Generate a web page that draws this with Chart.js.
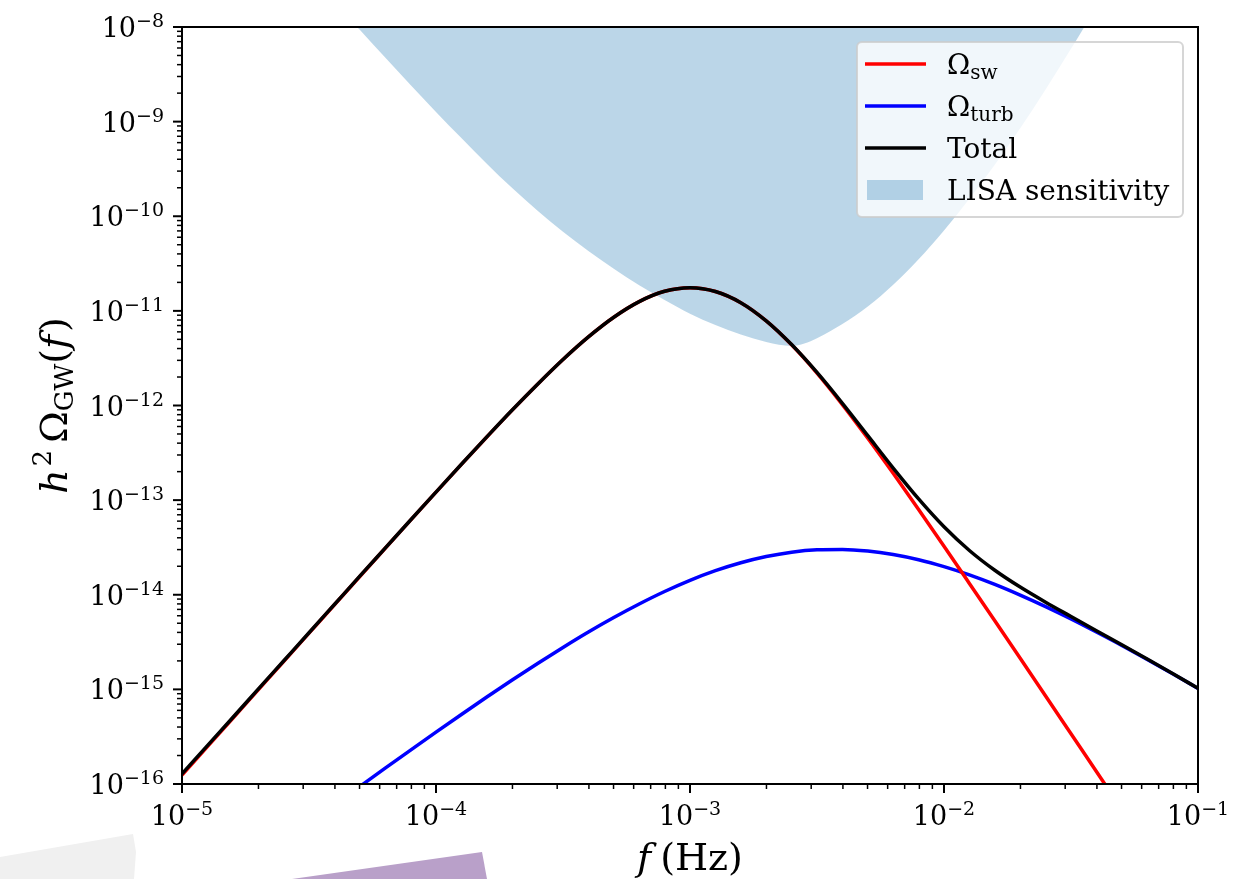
<!DOCTYPE html>
<html>
<head>
<meta charset="utf-8">
<title>GW spectrum</title>
<script src="https://cdn.jsdelivr.net/npm/chart.js@4.4.0/dist/chart.umd.min.js"></script>
<style>
  html, body { margin: 0; padding: 0; background: #fff; }
  canvas { display: block; }
</style>
</head>
<body>
<canvas id="spectrum" width="1254" height="879"></canvas>
<script>
// frequencies as log10(f / Hz)
const logFreq = [
  -5.0, -4.9, -4.8, -4.7, -4.6, -4.5, -4.4, -4.3, -4.2, -4.1,
  -4.0, -3.9, -3.8, -3.7, -3.6, -3.5, -3.4, -3.3, -3.2, -3.1,
  -3.0, -2.9, -2.8, -2.7, -2.6, -2.5, -2.4, -2.3, -2.2, -2.1,
  -2.0, -1.9, -1.8, -1.7, -1.6, -1.5, -1.4, -1.3, -1.2, -1.1, -1.0
];

// log10(h^2 Omega) for each component
const swLog = [
  -15.905, -15.605, -15.305, -15.005, -14.705, -14.406, -14.106, -13.807, -13.509, -13.212,
  -12.916, -12.622, -12.333, -12.049, -11.775, -11.514, -11.275, -11.067, -10.902, -10.793,
  -10.755, -10.795, -10.914, -11.106, -11.359, -11.657, -11.990, -12.346, -12.717, -13.099,
  -13.487, -13.880, -14.275, -14.672, -15.070, -15.469, -15.868, -16.268, -16.668, -17.068, -17.468
];
const turbLog = [
  -17.406, -17.208, -17.009, -16.811, -16.614, -16.417, -16.221, -16.027, -15.833, -15.642,
  -15.452, -15.265, -15.081, -14.901, -14.726, -14.557, -14.394, -14.241, -14.098, -13.966,
  -13.848, -13.746, -13.662, -13.596, -13.550, -13.525, -13.521, -13.538, -13.575, -13.630,
  -13.703, -13.790, -13.891, -14.004, -14.126, -14.256, -14.394, -14.536, -14.684, -14.835, -14.990
];
const totalLog = [
  -15.892, -15.594, -15.297, -14.998, -14.700, -14.402, -14.103, -13.804, -13.507, -13.210,
  -12.915, -12.621, -12.332, -12.048, -11.775, -11.514, -11.275, -11.067, -10.902, -10.793,
  -10.755, -10.795, -10.913, -11.105, -11.356, -11.651, -11.977, -12.319, -12.661, -12.987,
  -13.281, -13.532, -13.741, -13.919, -14.079, -14.230, -14.380, -14.528, -14.679, -14.832, -14.989
];

// LISA power-law sensitivity curve
const lisaFreqLog = [
  -4.4, -4.3, -4.2, -4.1, -4.0, -3.9, -3.8, -3.7, -3.6, -3.5,
  -3.4, -3.3, -3.2, -3.1, -3.0, -2.9, -2.8, -2.7, -2.65, -2.6,
  -2.55, -2.5, -2.4, -2.3, -2.2, -2.1, -2.0, -1.9, -1.8, -1.7,
  -1.6, -1.5, -1.4
];
const lisaLog = [
  -7.735, -8.03, -8.323, -8.613, -8.897, -9.174, -9.444, -9.702, -9.942, -10.164,
  -10.368, -10.554, -10.73, -10.885, -11.03, -11.15, -11.25, -11.33, -11.358, -11.37,
  -11.345, -11.29, -11.14, -10.955, -10.725, -10.455, -10.15, -9.815, -9.455, -9.07,
  -8.66, -8.23, -7.79
];

const xDecades = [-5, -4, -3, -2, -1];
const yDecades = [-16, -15, -14, -13, -12, -11, -10, -9, -8];

const SERIF = '"DejaVu Serif", "Liberation Serif", serif';

const toPoints = (xs, ys) => xs.map((lx, i) => ({ x: Math.pow(10, lx), y: Math.pow(10, ys[i]) }));

// "10" with a superscript exponent
function drawPow(ctx, exp, x, baseline, align) {
  const base = '10';
  const sup = '\u2212' + Math.abs(exp);
  ctx.font = '27px ' + SERIF;
  const wb = ctx.measureText(base).width;
  ctx.font = '19px ' + SERIF;
  const ws = ctx.measureText(sup).width;
  const left = align === 'center' ? x - (wb + ws) / 2 : x - (wb + ws);
  ctx.textAlign = 'left';
  ctx.textBaseline = 'alphabetic';
  ctx.font = '27px ' + SERIF;
  ctx.fillText(base, left, baseline);
  ctx.font = '19px ' + SERIF;
  ctx.fillText(sup, left + wb, baseline - 10);
}

// draws a run of [text, font, dy, gap] pieces starting at x
function drawRun(ctx, pieces, x, y) {
  let cx = x;
  pieces.forEach(([txt, font, dy, gap]) => {
    ctx.font = font;
    ctx.fillText(txt, cx, y + (dy || 0));
    cx += ctx.measureText(txt).width + (gap || 0);
  });
  return cx - x;
}

function runWidth(ctx, pieces) {
  let w = 0;
  pieces.forEach(([txt, font, dy, gap]) => {
    ctx.font = font;
    w += ctx.measureText(txt).width + (gap || 0);
  });
  return w;
}

const frame = {
  id: 'frame',
  beforeDraw(chart) {
    const ctx = chart.ctx;
    ctx.save();
    ctx.fillStyle = '#ffffff';
    ctx.fillRect(0, 0, chart.width, chart.height);
    // scraps of paper below the axis
    ctx.fillStyle = '#f0f0f0';
    ctx.beginPath();
    ctx.moveTo(0, 857); ctx.lineTo(133, 834); ctx.lineTo(136, 852);
    ctx.lineTo(134, 879); ctx.lineTo(0, 879);
    ctx.closePath();
    ctx.fill();
    ctx.fillStyle = '#b9a0c9';
    ctx.beginPath();
    ctx.moveTo(292, 879); ctx.lineTo(482, 852); ctx.lineTo(487, 879);
    ctx.closePath();
    ctx.fill();
    ctx.restore();
  },
  afterDatasetsDraw(chart) {
    const ctx = chart.ctx;
    const { left, right, top, bottom } = chart.chartArea;
    const xs = chart.scales.x, ys = chart.scales.y;
    ctx.save();
    ctx.strokeStyle = '#000';
    ctx.fillStyle = '#000';
    ctx.lineWidth = 2;
    ctx.strokeRect(left, top, right - left, bottom - top);

    // x ticks
    xDecades.forEach((d, i) => {
      const px = xs.getPixelForValue(Math.pow(10, d));
      ctx.lineWidth = 2;
      ctx.beginPath(); ctx.moveTo(px, bottom); ctx.lineTo(px, bottom + 9); ctx.stroke();
      drawPow(ctx, d, px, 825, 'center');
      if (i < xDecades.length - 1) {
        ctx.lineWidth = 1.5;
        for (let k = 2; k <= 9; k++) {
          const mx = xs.getPixelForValue(k * Math.pow(10, d));
          ctx.beginPath(); ctx.moveTo(mx, bottom); ctx.lineTo(mx, bottom + 5); ctx.stroke();
        }
      }
    });

    // y ticks
    yDecades.forEach((d, i) => {
      const py = ys.getPixelForValue(Math.pow(10, d));
      ctx.lineWidth = 2;
      ctx.beginPath(); ctx.moveTo(left, py); ctx.lineTo(left - 9, py); ctx.stroke();
      drawPow(ctx, d, 164, py + 10, 'right');
      if (i < yDecades.length - 1) {
        ctx.lineWidth = 1.5;
        for (let k = 2; k <= 9; k++) {
          const my = ys.getPixelForValue(k * Math.pow(10, d));
          ctx.beginPath(); ctx.moveTo(left, my); ctx.lineTo(left - 5, my); ctx.stroke();
        }
      }
    });

    // axis titles
    const big = '38px ' + SERIF, bigIt = 'italic 38px ' + SERIF, small = '26px ' + SERIF;
    ctx.textAlign = 'left';
    ctx.textBaseline = 'alphabetic';
    const xTitle = [['f', bigIt, 0, 9], ['(Hz)', big, 0]];
    const xw = runWidth(ctx, xTitle);
    drawRun(ctx, xTitle, (left + right) / 2 - xw / 2, 870);

    const yTitle = [['h', bigIt, 0, 3], ['2', small, -16, 7], ['\u03A9', big, 0],
                    ['GW', small, 6], ['(', big, 0], ['f', bigIt, 0, 3], [')', big, 0]];
    const yw = runWidth(ctx, yTitle);
    ctx.translate(67, (top + bottom) / 2);
    ctx.rotate(-Math.PI / 2);
    drawRun(ctx, yTitle, -yw / 2, 0);
    ctx.restore();
  },
  afterDraw(chart) {
    const ctx = chart.ctx;
    ctx.save();
    // legend box
    const bx = 857, by = 42, bw = 326, bh = 175, r = 5;
    ctx.beginPath();
    ctx.moveTo(bx + r, by);
    ctx.arcTo(bx + bw, by, bx + bw, by + bh, r);
    ctx.arcTo(bx + bw, by + bh, bx, by + bh, r);
    ctx.arcTo(bx, by + bh, bx, by, r);
    ctx.arcTo(bx, by, bx + bw, by, r);
    ctx.closePath();
    ctx.fillStyle = 'rgba(255,255,255,0.8)';
    ctx.fill();
    ctx.strokeStyle = 'rgba(204,204,204,0.8)';
    ctx.lineWidth = 2;
    ctx.stroke();

    const font = '28px ' + SERIF, sub = '20px ' + SERIF;
    const rows = [
      { color: '#ff0000', y: 64, label: [['\u03A9', font, 0], ['sw', sub, 5]] },
      { color: '#0000ff', y: 106, label: [['\u03A9', font, 0], ['turb', sub, 5]] },
      { color: '#000000', y: 148, label: [['Total', font, 0]] },
      { patch: true, y: 190, label: [['LISA sensitivity', font, 0]] }
    ];
    ctx.textAlign = 'left';
    ctx.textBaseline = 'alphabetic';
    rows.forEach(row => {
      if (row.patch) {
        ctx.fillStyle = 'rgba(31,119,180,0.3)';
        ctx.fillRect(867, row.y - 10, 56, 20);
      } else {
        ctx.strokeStyle = row.color;
        ctx.lineWidth = 3.5;
        ctx.beginPath(); ctx.moveTo(865, row.y); ctx.lineTo(926, row.y); ctx.stroke();
      }
      ctx.fillStyle = '#000';
      drawRun(ctx, row.label, 947, row.y + 10);
    });
    ctx.restore();
  }
};

const lineSet = (label, xs, ys, color, order) => ({
  label,
  data: toPoints(xs, ys),
  borderColor: color,
  borderWidth: 3.5,
  pointRadius: 0,
  fill: false,
  cubicInterpolationMode: 'monotone',
  order
});

new Chart(document.getElementById('spectrum'), {
  type: 'line',
  data: {
    datasets: [
      lineSet('sw', logFreq, swLog, '#ff0000', 1),
      lineSet('turb', logFreq, turbLog, '#0000ff', 2),
      lineSet('Total', logFreq, totalLog, '#000000', 0),
      {
        label: 'LISA sensitivity',
        data: toPoints(lisaFreqLog, lisaLog),
        borderWidth: 0,
        borderColor: 'rgba(0,0,0,0)',
        backgroundColor: 'rgba(31,119,180,0.3)',
        pointRadius: 0,
        fill: 'end',
        cubicInterpolationMode: 'monotone',
        order: 3
      }
    ]
  },
  options: {
    responsive: false,
    animation: false,
    devicePixelRatio: 1,
    layout: { padding: { left: 0, top: 27, right: 56, bottom: 0 } },
    plugins: { legend: { display: false }, tooltip: { enabled: false } },
    scales: {
      x: {
        type: 'logarithmic',
        min: 1e-5,
        max: 1e-1,
        grid: { display: false },
        border: { display: false },
        ticks: { display: false },
        afterFit: s => { s.height = 95; }
      },
      y: {
        type: 'logarithmic',
        min: 1e-16,
        max: 1e-8,
        grid: { display: false },
        border: { display: false },
        ticks: { display: false },
        afterFit: s => { s.width = 182; }
      }
    }
  },
  plugins: [frame]
});
</script>
</body>
</html>
